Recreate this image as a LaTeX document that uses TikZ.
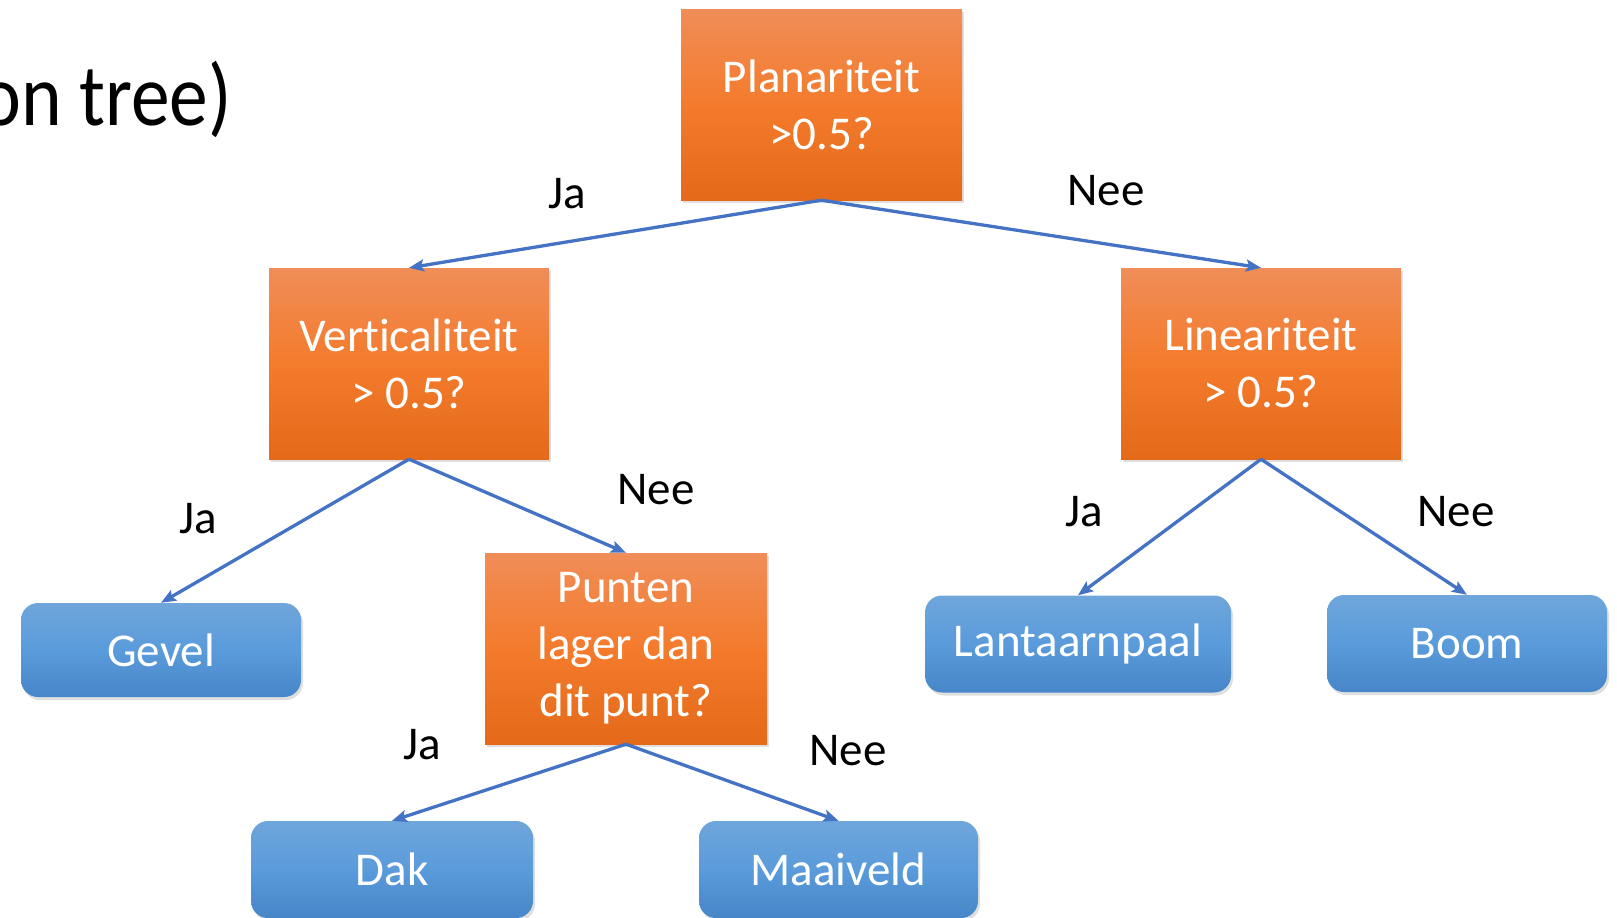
\documentclass[tikz,border=0pt]{standalone}
\usepackage{fontspec}
\setmainfont{Carlito}[RawFeature={-liga;-clig;-calt;-dlig}]
\usepackage{tikz}
\usetikzlibrary{arrows.meta,shadows}
\definecolor{arrowblue}{HTML}{4472C4}
\definecolor{orangetop}{HTML}{F08D58}
\definecolor{orangemid}{HTML}{F47B2C}
\definecolor{orangebot}{HTML}{E46A1A}
\definecolor{bluetop}{HTML}{6FA6DB}
\definecolor{bluemid}{HTML}{5A9BDB}
\definecolor{bluebot}{HTML}{4786C8}

\begin{document}
\begin{tikzpicture}[
  x=1pt, y=-1pt,
  >={Stealth[length=15pt,width=12pt,inset=3pt]},
  decisionbox/.style={
    top color=orangetop,
    bottom color=orangebot,
    middle color=orangemid,
    minimum width=281pt,
    minimum height=191pt,
    align=center,
    text=white,
    font=\fontsize{47}{57}\selectfont,
    drop shadow={shadow xshift=2pt, shadow yshift=-3pt, opacity=0.25}
  },
  leafbox/.style={
    top color=bluetop,
    bottom color=bluebot,
    middle color=bluemid,
    rounded corners=17pt,
    minimum width=280pt,
    minimum height=97pt,
    align=center,
    text=white,
    font=\fontsize{47}{57}\selectfont,
    drop shadow={shadow xshift=2pt, shadow yshift=-3pt, opacity=0.25}
  },
  brancharrow/.style={
    ->,
    line width=3.3pt,
    draw=arrowblue
  },
  answerlabel/.style={
    anchor=base,
    inner sep=0pt,
    font=\fontsize{47}{57}\selectfont,
    text=black
  }
]
  \useasboundingbox (0,0) rectangle (1617,918);

  % =========================================================================
  % TITLE (cut off at the left edge)
  % =========================================================================
  \node[anchor=base east, inner sep=0pt, font=\fontsize{88}{100}\selectfont] (title) at (232,125)
    {\scalebox{0.88}[1]{on tree)}};

  % =========================================================================
  % DECISION NODES
  % =========================================================================
  \node[decisionbox] (planar) at (821.5,104.5) {Planariteit\\>0.5?};
  \node[decisionbox, minimum width=280pt] (vertic) at (409,363.5) {Verticaliteit\\> 0.5?};
  \node[decisionbox, minimum width=280pt] (linear) at (1261,363.5) {Lineariteit\\> 0.5?};
  \node[decisionbox, minimum width=282pt] (punten) at (626,648.5) {Punten\\lager dan\\dit punt?};

  % =========================================================================
  % LEAVES
  % =========================================================================
  \node[leafbox, minimum height=94pt] (gevel) at (161,650) {Gevel};
  \node[leafbox, minimum width=306pt] (lantaarn) at (1078,644) {Lantaarnpaal};
  \node[leafbox] (boom) at (1467,643.5) {Boom};
  \node[leafbox, minimum width=282pt] (dak) at (392,869.5) {Dak};
  \node[leafbox, minimum width=279pt] (maaiveld) at (838.5,869.5) {Maaiveld};

  % =========================================================================
  % BRANCHES
  % =========================================================================
  \draw[brancharrow] (planar.south) -- (vertic.north);
  \draw[brancharrow] (planar.south) -- (linear.north);
  \draw[brancharrow] (vertic.south) -- (gevel.north);
  \draw[brancharrow] (vertic.south) -- (punten.north);
  \draw[brancharrow] (linear.south) -- (lantaarn.north);
  \draw[brancharrow] (linear.south) -- (boom.north);
  \draw[brancharrow] (punten.south) -- (dak.north);
  \draw[brancharrow] (punten.south) -- (maaiveld.north);

  % Answer labels
  \node[answerlabel] (ja1) at (567,208) {Ja};
  \node[answerlabel] (nee1) at (1106,205) {Nee};
  \node[answerlabel] (ja2) at (198,533) {Ja};
  \node[answerlabel] (nee2) at (656,504) {Nee};
  \node[answerlabel] (ja3) at (1084,526) {Ja};
  \node[answerlabel] (nee3) at (1456,526) {Nee};
  \node[answerlabel] (ja4) at (422,759) {Ja};
  \node[answerlabel] (nee4) at (848,765) {Nee};

\end{tikzpicture}
\end{document}
